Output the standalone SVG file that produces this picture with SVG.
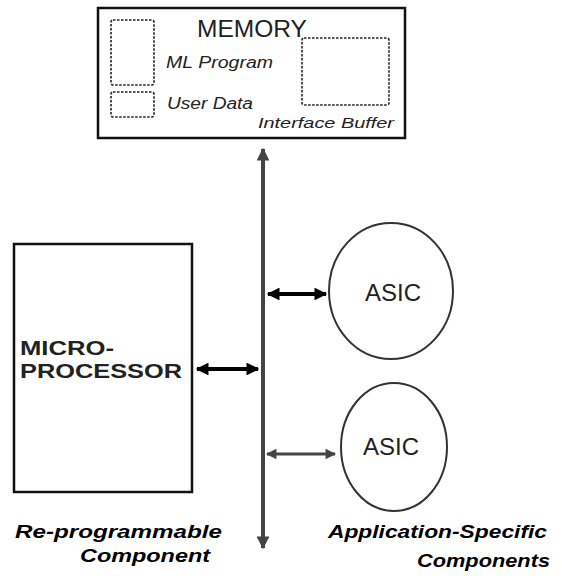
<svg xmlns="http://www.w3.org/2000/svg" width="562" height="576" viewBox="0 0 562 576">
<style>
.box{fill:#fff;stroke:#111;stroke-width:2.5}
.dash{fill:none;stroke:#222;stroke-width:1.6;stroke-dasharray:2.5 1.5}
.circ{fill:#fff;stroke:#333;stroke-width:2}
.t{font-family:"Liberation Sans",Arial,sans-serif;fill:#222}
.it{font-family:"Liberation Sans",Arial,sans-serif;font-style:italic;fill:#222}
.lab{font-family:"Liberation Sans",Arial,sans-serif;font-style:italic;font-weight:bold;fill:#000}
.bus{stroke:#444;stroke-width:4;fill:none}
.blk{stroke:#000;stroke-width:4;fill:none}
.gry{stroke:#444;stroke-width:3;fill:none}
</style>
<defs>
<marker id="ab" viewBox="0 0 10 10" refX="9" refY="5" markerWidth="4" markerHeight="3.2" orient="auto-start-reverse" markerUnits="strokeWidth">
<path d="M0,0 L10,5 L0,10 z" fill="#000"/>
</marker>
<marker id="ag" viewBox="0 0 10 10" refX="9" refY="5" markerWidth="4.5" markerHeight="3.5" orient="auto-start-reverse" markerUnits="strokeWidth">
<path d="M0,0 L10,5 L0,10 z" fill="#444"/>
</marker>
<marker id="abus" viewBox="0 0 10 10" refX="9" refY="5" markerWidth="5.5" markerHeight="3.2" orient="auto-start-reverse" markerUnits="strokeWidth">
<path d="M0,0 L10,5 L0,10 z" fill="#444"/>
</marker>
</defs>

<g id="memory">
<rect class="box" x="98" y="8" width="307" height="130"/>
<rect class="dash" x="111" y="20" width="43" height="65" rx="2"/>
<rect class="dash" x="111" y="92" width="43" height="25" rx="2"/>
<rect class="dash" x="302" y="38" width="87" height="67" rx="2"/>
<text class="t" x="252" y="37" font-size="23" text-anchor="middle" textLength="110" lengthAdjust="spacingAndGlyphs">MEMORY</text>
<text class="it" x="166" y="68" font-size="16" textLength="107" lengthAdjust="spacingAndGlyphs">ML Program</text>
<text class="it" x="167" y="109" font-size="16" textLength="86" lengthAdjust="spacingAndGlyphs">User Data</text>
<text class="it" x="258" y="128" font-size="15" textLength="136" lengthAdjust="spacingAndGlyphs">Interface Buffer</text>
</g>

<g id="microprocessor">
<rect class="box" x="14" y="244" width="178" height="248" stroke-width="3"/>
<text class="t" x="20" y="355" font-size="21" font-weight="bold" fill="#000" textLength="94" lengthAdjust="spacingAndGlyphs">MICRO-</text>
<text class="t" x="20" y="378" font-size="21" font-weight="bold" fill="#000" textLength="162" lengthAdjust="spacingAndGlyphs">PROCESSOR</text>
</g>

<g id="asic1">
<ellipse class="circ" cx="391" cy="291" rx="62" ry="68"/>
<text class="t" x="393" y="301" font-size="24" text-anchor="middle" fill="#333">ASIC</text>
</g>

<g id="asic2">
<ellipse class="circ" cx="394" cy="447" rx="53" ry="64"/>
<text class="t" x="391" y="455" font-size="24" text-anchor="middle" fill="#333">ASIC</text>
</g>

<g id="connectors">
<line class="bus" x1="263" y1="149" x2="263" y2="548" marker-start="url(#abus)" marker-end="url(#abus)"/>
<line class="blk" x1="197" y1="369" x2="258" y2="369" marker-start="url(#ab)" marker-end="url(#ab)"/>
<line class="blk" x1="268" y1="294" x2="326" y2="294" marker-start="url(#ab)" marker-end="url(#ab)"/>
<line class="gry" x1="267" y1="454" x2="335" y2="454" marker-start="url(#ag)" marker-end="url(#ag)"/>
</g>

<g id="labels">
<text class="lab" x="15" y="538" font-size="19" textLength="207" lengthAdjust="spacingAndGlyphs">Re-programmable</text>
<text class="lab" x="80" y="562" font-size="19" textLength="130" lengthAdjust="spacingAndGlyphs">Component</text>
<text class="lab" x="328" y="538" font-size="19" textLength="219" lengthAdjust="spacingAndGlyphs">Application-Specific</text>
<text class="lab" x="417" y="567" font-size="19" textLength="133" lengthAdjust="spacingAndGlyphs">Components</text>
</g>
</svg>
